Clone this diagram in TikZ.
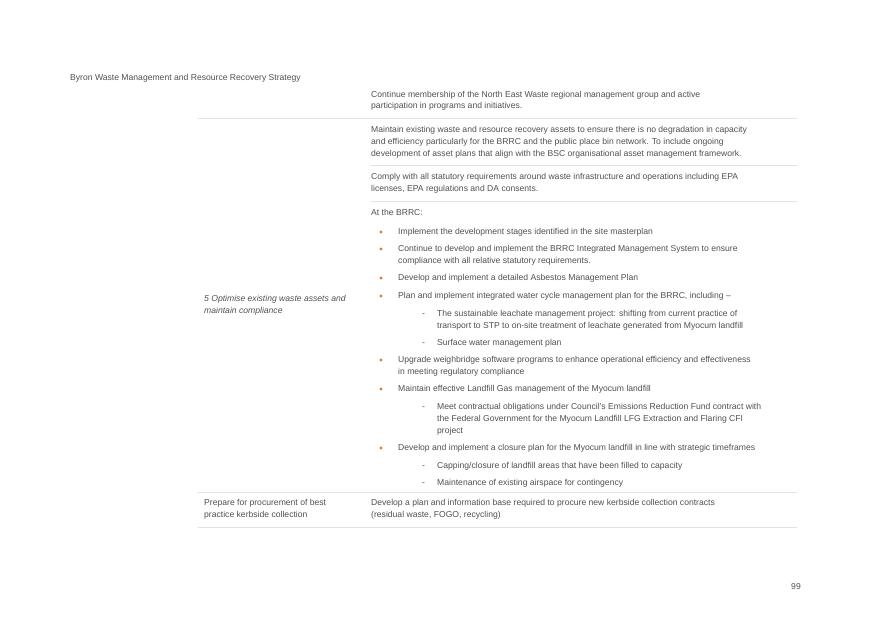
\documentclass[tikz,border=0pt]{standalone}
\usepackage{fontspec}
\setmainfont{Liberation Sans}
\definecolor{txt}{HTML}{505050}
\definecolor{rule}{HTML}{E2E2E2}
\definecolor{orng}{HTML}{E8772E}
\begin{document}
\begin{tikzpicture}[x=1pt,y=-1pt,
  t/.style={anchor=mid west,inner sep=0pt,text=txt,font=\fontsize{8.6}{10}\selectfont},
  ti/.style={t,font=\fontsize{8.6}{10}\selectfont\itshape},
  bul/.style={circle,fill=orng,inner sep=0pt,minimum size=3.2pt},
  dsh/.style={t},
  hr/.style={draw=rule,line width=0.8pt}]
\useasboundingbox (0,0) rectangle (875,619);
\node[t] (hdr) at (70,78) {Byron Waste Management and Resource Recovery Strategy};
% rules
\draw[hr] (198,118) -- (797,118);
\draw[hr] (371,165) -- (797,165);
\draw[hr] (371,201) -- (797,201);
\draw[hr] (198,492) -- (797,492);
\draw[hr] (198,527) -- (797,527);
% column 1
\node[ti] (c1a) at (204,299) {5 Optimise existing waste assets and};
\node[ti] (c1b) at (204,311) {maintain compliance};
\node[t] (c1c) at (204,503) {Prepare for procurement of best};
\node[t] (c1d) at (204,515) {practice kerbside collection};
% column 2
\node[t] (a1) at (371,95) {Continue membership of the North East Waste regional management group and active};
\node[t] (a2) at (371,106) {participation in programs and initiatives.};
\node[t] (b1) at (371,130) {Maintain existing waste and resource recovery assets to ensure there is no degradation in capacity};
\node[t] (b2) at (371,142) {and efficiency particularly for the BRRC and the public place bin network. To include ongoing};
\node[t] (b3) at (371,154) {development of asset plans that align with the BSC organisational asset management framework.};
\node[t] (c1) at (371,177) {Comply with all statutory requirements around waste infrastructure and operations including EPA};
\node[t] (c2) at (371,189) {licenses, EPA regulations and DA consents.};
\node[t] (d0) at (371,213) {At the BRRC:};
% bullets
\foreach \y/\n in {232/p1,249/p2,278/p3,296/p4,360/p5,389/p6,448/p7}
  \node[bul] (\n) at (381,\y) {};
\node[t] at (398,232) {Implement the development stages identified in the site masterplan};
\node[t] at (398,249) {Continue to develop and implement the BRRC Integrated Management System to ensure};
\node[t] at (398,261) {compliance with all relative statutory requirements.};
\node[t] at (398,278) {Develop and implement a detailed Asbestos Management Plan};
\node[t] at (398,296) {Plan and implement integrated water cycle management plan for the BRRC, including –};
\node[t] at (398,360) {Upgrade weighbridge software programs to enhance operational efficiency and effectiveness};
\node[t] at (398,372) {in meeting regulatory compliance};
\node[t] at (398,389) {Maintain effective Landfill Gas management of the Myocum landfill};
\node[t] at (398,448) {Develop and implement a closure plan for the Myocum landfill in line with strategic timeframes};
% dashes
\foreach \y in {314,343,407,466,483}
  \node[t] at (422,\y) {-};
\node[t] at (437,314) {The sustainable leachate management project: shifting from current practice of};
\node[t] at (437,326) {transport to STP to on-site treatment of leachate generated from Myocum landfill};
\node[t] at (437,343) {Surface water management plan};
\node[t] at (437,407) {Meet contractual obligations under Council's Emissions Reduction Fund contract with};
\node[t] at (437,419) {the Federal Government for the Myocum Landfill LFG Extraction and Flaring CFI};
\node[t] at (437,431) {project};
\node[t] at (437,466) {Capping/closure of landfill areas that have been filled to capacity};
\node[t] at (437,483) {Maintenance of existing airspace for contingency};
\node[t] (e1) at (371,503) {Develop a plan and information base required to procure new kerbside collection contracts};
\node[t] (e2) at (371,515) {(residual waste, FOGO, recycling)};
\node[t,anchor=mid east] (pg) at (801,587) {99};
\end{tikzpicture}
\end{document}
